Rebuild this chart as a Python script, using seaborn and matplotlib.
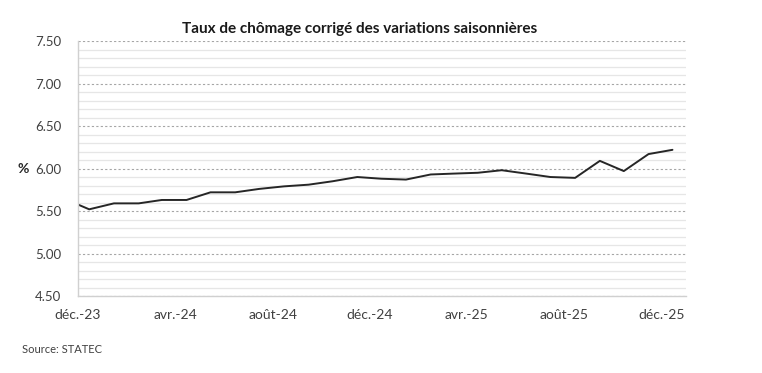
import pandas as pd
import matplotlib
matplotlib.use("Agg")
import matplotlib.pyplot as plt
import seaborn as sns
from matplotlib.ticker import MultipleLocator

# monthly seasonally adjusted unemployment rate (%), plotted mid-month
months = pd.date_range("2023-11-01", periods=26, freq="MS") + pd.Timedelta(days=14)
rates = [5.64, 5.52, 5.59, 5.59, 5.63, 5.63, 5.72, 5.72, 5.76, 5.79, 5.81, 5.85, 5.90,
         5.88, 5.87, 5.93, 5.94, 5.95, 5.98, 5.94, 5.90, 5.89, 6.09, 5.97, 6.17, 6.22]

tick_dates = pd.to_datetime(["2023-12-01", "2024-04-01", "2024-08-01", "2024-12-01",
                             "2025-04-01", "2025-08-01", "2025-12-01"])
tick_labels = ["déc.-23", "avr.-24", "août-24", "déc.-24", "avr.-25", "août-25", "déc.-25"]

df = pd.DataFrame({"mois": months, "taux": rates})

sns.set_style("white")
plt.rcParams["font.family"] = ["Lato", "DejaVu Sans"]

fig = plt.figure(figsize=(7.62, 3.73), dpi=100)
ax = fig.add_axes([0.1024, 0.2064, 0.7979, 0.6836])

sns.lineplot(data=df, x="mois", y="taux", ax=ax, color="#262626", linewidth=1.4)

ax.set_xlim(pd.Timestamp("2023-12-01"), pd.Timestamp("2026-01-01"))
ax.set_ylim(4.5, 7.5)
ax.yaxis.set_major_locator(MultipleLocator(0.5))
ax.yaxis.set_minor_locator(MultipleLocator(0.1))
ax.set_yticklabels([f"{v:.2f}" for v in ax.get_yticks()])
ax.set_xticks(tick_dates)
ax.set_xticklabels(tick_labels)
ax.xaxis.set_minor_locator(plt.NullLocator())

ax.grid(which="minor", axis="y", color="#e6e6e6", linewidth=0.9, linestyle="-")
ax.grid(which="major", axis="y", color="#a6a6a6", linewidth=0.8, linestyle=(0, (2, 2)))
ax.set_axisbelow(True)

for s in ["top", "right"]:
    ax.spines[s].set_visible(False)
for s in ["left", "bottom"]:
    ax.spines[s].set_color("#d0d0d0")
    ax.spines[s].set_linewidth(1.0)

ax.tick_params(axis="both", which="major", labelsize=10, colors="#404040",
               length=4, width=0.8, color="#c0c0c0", direction="out")
ax.tick_params(axis="y", which="major", labelsize=9.5, pad=8)
ax.tick_params(axis="y", which="minor", length=0)
ax.tick_params(axis="x", pad=5)
ax.set_xlabel("")
ax.set_ylabel("")

fig.text(0.472, 0.921, "Taux de chômage corrigé des variations saisonnières",
         ha="center", va="center", fontsize=11, fontweight="bold", color="#1a1a1a")
fig.text(0.030, 0.548, "%", ha="center", va="center", fontsize=10, fontweight="bold",
         color="#262626")
fig.text(0.029, 0.064, "Source: STATEC", ha="left", va="center", fontsize=8,
         color="#404040")

fig.savefig("out.png", dpi=100)
